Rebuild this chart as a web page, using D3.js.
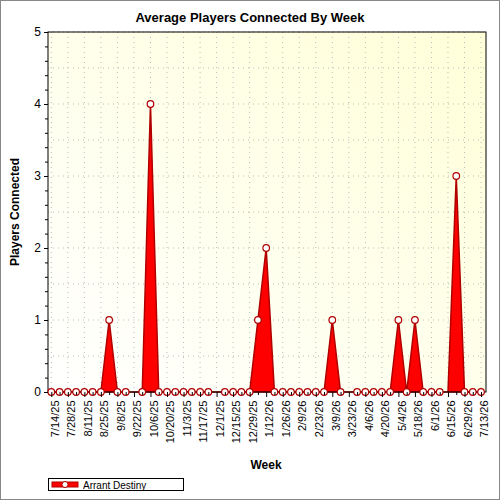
<!DOCTYPE html><html><head><script src="https://cdn.jsdelivr.net/npm/d3@7"></script>
<style>body{margin:0}svg{font-family:Arial,"Liberation Sans",sans-serif}</style></head><body><script>
const startDate = new Date(2025,6,14);
const weeks = 53;
const values = [0,0,0,0,0,0,0,1,0,0,null,0,4,0,0,0,0,0,0,0,null,0,0,0,0,1,2,0,0,0,0,0,0,0,1,0,null,0,0,0,0,0,1,0,1,0,0,0,null,3,0,0,0];
const yTicks = [0,1,2,3,4,5];
const dates = d3.range(weeks).map(i=>d3.timeDay.offset(startDate,i*7));
const fmt = d=>`${d.getMonth()+1}/${d.getDate()}/${String(d.getFullYear()).slice(2)}`;
const svg = d3.select("body").append("svg").attr("width",500).attr("height",500);
svg.append("rect").attr("x",0.5).attr("y",0.5).attr("width",499).attr("height",499).attr("fill","#fff").attr("stroke","#888");
const L=48,R=486,T=32,B=392;
const x=d3.scaleLinear().domain([-0.4,weeks-1+0.6]).range([L,R]);
const y=d3.scaleLinear().domain([0,5]).range([B,T]);
const defs=svg.append("defs");
const g=defs.append("linearGradient").attr("id","bg").attr("x1","0").attr("y1","1").attr("x2","1").attr("y2","0");
g.append("stop").attr("offset","0").attr("stop-color","#ffffff");
g.append("stop").attr("offset","1").attr("stop-color","#ffffd8");
svg.append("rect").attr("x",L).attr("y",T).attr("width",R-L).attr("height",B-T).attr("fill","url(#bg)");
// grid
d3.range(0,5.01,0.5).forEach(v=>svg.append("line").attr("x1",L).attr("x2",R).attr("y1",y(v)).attr("y2",y(v)).attr("stroke","#bbb").attr("stroke-dasharray","1,4"));
d3.range(0,weeks,2).forEach(i=>svg.append("line").attr("x1",x(i)).attr("x2",x(i)).attr("y1",T).attr("y2",B).attr("stroke","#bbb").attr("stroke-dasharray","1,4"));
const pts=values.map((v,i)=>({i,v:v==null?0:v,m:v!=null}));
const area=d3.area().x(d=>x(d.i)).y0(y(0)).y1(d=>y(d.v));
svg.append("path").datum(pts).attr("d",area).attr("fill","#ff0000").attr("stroke","#b00000").attr("stroke-width",1.5);
svg.append("rect").attr("x",L).attr("y",T).attr("width",R-L).attr("height",B-T).attr("fill","none").attr("stroke","#000");
svg.selectAll("circle.m").data(pts.filter(d=>d.m)).enter().append("circle").attr("cx",d=>x(d.i)).attr("cy",d=>y(d.v)).attr("r",3.3).attr("fill","#fff").attr("stroke","#b00000").attr("stroke-width",1.2);
const ya=svg.append("g").attr("transform",`translate(${L},0)`).call(d3.axisLeft(y).tickValues(yTicks).tickSize(4).tickFormat(d3.format("d")));
ya.append("g").call(d3.axisLeft(y).tickValues(d3.range(0,5.01,0.2)).tickSize(3).tickFormat(""));
ya.selectAll("text").attr("font-size",12).attr("fill","#000");
ya.selectAll(".domain").remove();
const xa=svg.append("g").attr("transform",`translate(0,${B})`).call(d3.axisBottom(x).tickValues(d3.range(0,weeks,2)).tickSize(5).tickFormat(i=>fmt(dates[i])));
xa.append("g").call(d3.axisBottom(x).tickValues(d3.range(1,weeks,2)).tickSize(3).tickFormat(""));
xa.selectAll(".domain").remove();
xa.selectAll("text").attr("font-size",11).attr("fill","#000").attr("transform","rotate(-90)").attr("text-anchor","end").attr("dx","-0.5em").attr("dy","-0.3em").attr("y",0).attr("x",-3).style("dominant-baseline","middle");
xa.selectAll("text").attr("dy","0.35em");
svg.append("text").attr("x",250).attr("y",22).attr("text-anchor","middle").attr("font-weight","bold").attr("font-size",13).text("Average Players Connected By Week");
svg.append("text").attr("transform",`translate(19,${(T+B)/2}) rotate(-90)`).attr("text-anchor","middle").attr("font-weight","bold").attr("font-size",12).text("Players Connected");
svg.append("text").attr("x",266).attr("y",469).attr("text-anchor","middle").attr("font-weight","bold").attr("font-size",12).text("Week");
svg.append("rect").attr("x",48.5).attr("y",478.5).attr("width",135).attr("height",12).attr("fill","#fff").attr("stroke","#000");
svg.append("rect").attr("x",52).attr("y",482).attr("width",26).attr("height",5).attr("fill","#ff0000").attr("stroke","#b00000");
svg.append("circle").attr("cx",65).attr("cy",484.5).attr("r",3).attr("fill","#fff").attr("stroke","#b00000");
svg.append("text").attr("x",83).attr("y",488.5).attr("font-size",10).text("Arrant Destiny");
</script></body></html>
